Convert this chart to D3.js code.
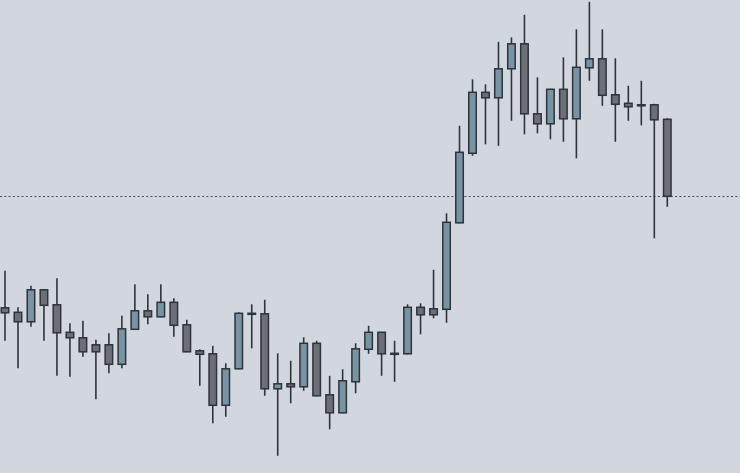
<!DOCTYPE html>
<html>
<head>
<meta charset="utf-8">
<script src="https://cdn.jsdelivr.net/npm/d3@7"></script>
<style>
  html, body { margin: 0; padding: 0; background: #d2d6df; }
  svg { display: block; }
</style>
</head>
<body>
<div id="chart"></div>
<script>

// OHLC series, one entry per bar
var opens  = [1.0777, 1.0768, 1.0749, 1.0813, 1.0783, 1.0728, 1.0717, 1.0703, 1.0703, 1.0664,
              1.0734, 1.0771, 1.0759, 1.0788, 1.0743, 1.0691, 1.0685, 1.0582, 1.0655, 1.0766,
              1.0765, 1.0615, 1.0625, 1.0619, 1.0706, 1.0603, 1.0567, 1.0629, 1.0694, 1.0728,
              1.0686, 1.0685, 1.0778, 1.0775, 1.0774, 1.0947, 1.1086, 1.1208, 1.1197, 1.1255,
              1.1305, 1.1165, 1.1145, 1.1214, 1.1155, 1.1257, 1.1275, 1.1203, 1.1186, 1.1183,
              1.1183, 1.1154];
var highs  = [1.0851, 1.0778, 1.0821, 1.0814, 1.0836, 1.0746, 1.0751, 1.0713, 1.0726, 1.0761,
              1.0824, 1.0804, 1.0824, 1.0796, 1.0753, 1.0694, 1.0701, 1.0666, 1.0768, 1.0784,
              1.0793, 1.0686, 1.0671, 1.0718, 1.0711, 1.0641, 1.0654, 1.0706, 1.0741, 1.0729,
              1.0711, 1.0784, 1.0786, 1.0853, 1.0966, 1.1141, 1.1234, 1.1224, 1.1309, 1.1318,
              1.1363, 1.1238, 1.1215, 1.1278, 1.1334, 1.1389, 1.1334, 1.1276, 1.1221, 1.1231,
              1.1185, 1.1156];
var lows   = [1.0711, 1.0656, 1.0739, 1.0711, 1.0641, 1.0639, 1.0679, 1.0594, 1.0646, 1.0656,
              1.0733, 1.0744, 1.0758, 1.0719, 1.0688, 1.0621, 1.0546, 1.0559, 1.0654, 1.0696,
              1.0601, 1.0481, 1.0586, 1.0611, 1.0600, 1.0534, 1.0566, 1.0606, 1.0685, 1.0641,
              1.0629, 1.0684, 1.0724, 1.0756, 1.0747, 1.0946, 1.1081, 1.1104, 1.1101, 1.1151,
              1.1124, 1.1126, 1.1114, 1.1109, 1.1076, 1.1231, 1.1181, 1.1109, 1.1151, 1.1142,
              1.0916, 1.0979];
var closes = [1.0767, 1.0749, 1.0813, 1.0782, 1.0727, 1.0717, 1.0689, 1.0689, 1.0664, 1.0735,
              1.0771, 1.0759, 1.0788, 1.0742, 1.0689, 1.0684, 1.0582, 1.0655, 1.0766, 1.0765,
              1.0615, 1.0625, 1.0619, 1.0706, 1.0601, 1.0567, 1.0631, 1.0695, 1.0728, 1.0685,
              1.0686, 1.0778, 1.0763, 1.0763, 1.0948, 1.1088, 1.1208, 1.1197, 1.1255, 1.1305,
              1.1165, 1.1145, 1.1214, 1.1155, 1.1258, 1.1275, 1.1202, 1.1184, 1.1179, 1.1183,
              1.1153, 1.1000];

// current price marker (dotted line)
var lastPrice = 1.1000;

var width = 740;
var height = 473;

var data = opens.map(function(o, i) {
    return {i: i, open: o, high: highs[i], low: lows[i], close: closes[i]};
});

var x = d3.scaleLinear()
    .domain([0, data.length - 1])
    .range([5, 667.3]);

var y = d3.scaleLinear()
    .domain([1.04466, 1.13926])
    .range([height, 0]);

var bodyWidth = 7.5;
var upColor = "#7893a3";
var downColor = "#6c6f78";
var edgeColor = "#2f333a";

var svg = d3.select("#chart").append("svg")
    .attr("width", width)
    .attr("height", height);

svg.append("rect")
    .attr("width", width)
    .attr("height", height)
    .attr("fill", "#d2d6df");

svg.append("line")
    .attr("x1", 0)
    .attr("x2", width)
    .attr("y1", Math.round(y(lastPrice)) + 0.5)
    .attr("y2", Math.round(y(lastPrice)) + 0.5)
    .attr("stroke", "#4a4e56")
    .attr("stroke-width", 1)
    .attr("stroke-dasharray", "2,2.3");

var candle = svg.selectAll("g.candle")
    .data(data)
    .enter().append("g")
    .attr("class", "candle");

// wicks
candle.append("line")
    .attr("x1", function(d) { return x(d.i); })
    .attr("x2", function(d) { return x(d.i); })
    .attr("y1", function(d) { return y(d.high); })
    .attr("y2", function(d) { return y(d.low); })
    .attr("stroke", edgeColor)
    .attr("stroke-width", 1.6);

// bodies
candle.append("rect")
    .attr("x", function(d) { return x(d.i) - bodyWidth / 2; })
    .attr("y", function(d) { return y(Math.max(d.open, d.close)); })
    .attr("width", bodyWidth)
    .attr("height", function(d) {
        return Math.max(1, Math.abs(y(d.open) - y(d.close)));
    })
    .attr("fill", function(d) { return d.close > d.open ? upColor : downColor; })
    .attr("stroke", edgeColor)
    .attr("stroke-width", 1.5);

</script>
</body>
</html>
